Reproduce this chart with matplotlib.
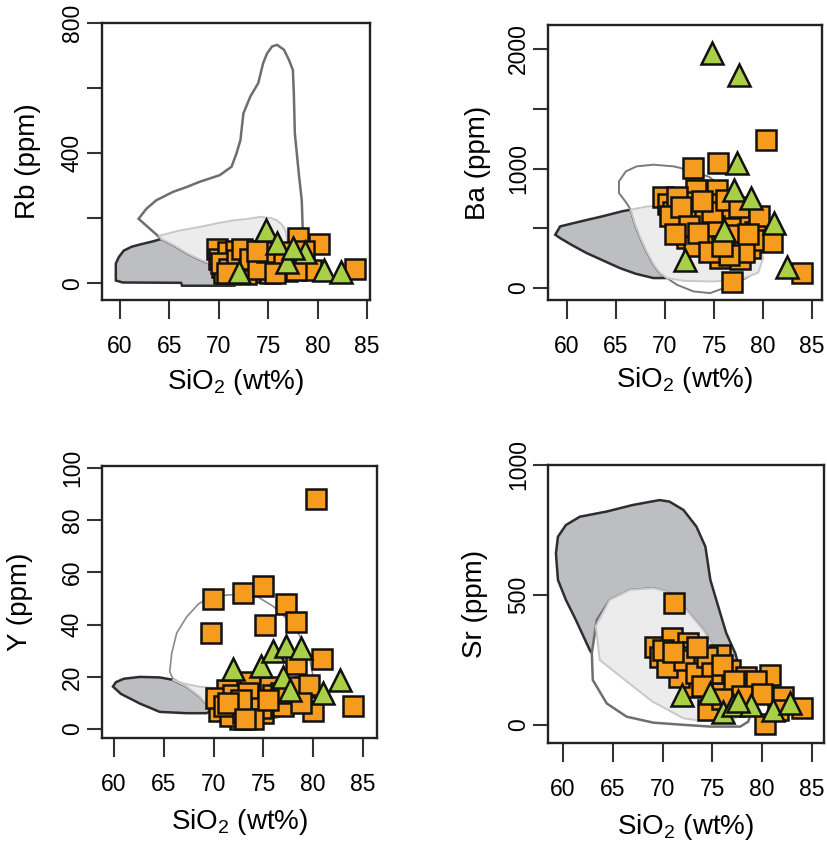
import matplotlib
matplotlib.use('Agg')
import matplotlib.pyplot as plt
from matplotlib.patches import Polygon

plt.rcParams['font.family'] = ['Liberation Sans', 'DejaVu Sans']
plt.rcParams['mathtext.fontset'] = 'custom'
plt.rcParams['mathtext.rm'] = 'Liberation Sans'

# ---- samples: SiO2 vs trace element (ppm) ----
rb_sq_x = [69.8, 70.0, 70.3, 70.9, 71.3, 71.8, 72.2, 72.6, 73.0, 73.4, 73.8, 74.2, 74.6, 75.0,
           75.5, 75.9, 76.4, 76.9, 77.5, 78.0, 79.3, 80.1, 83.8, 70.5, 71.6, 72.8, 73.6, 74.4,
           75.2, 76.2, 77.2, 78.6, 70.2, 71.0, 71.9, 72.4, 73.2, 74.0, 74.9, 76.6, 77.8,
           75.7, 73.9, 70.8]
rb_sq_y = [104, 75, 50, 95, 60, 100, 40, 85, 55, 98, 70, 35, 88, 60,
           45, 80, 55, 38, 65, 140, 40, 120, 45, 32, 30, 28, 100, 80,
           30, 95, 50, 100, 62, 42, 70, 105, 75, 45, 95, 70, 40,
           30, 100, 30]
rb_tr_x = [74.8, 75.9, 78.7, 76.9, 72.1, 80.6, 82.4, 77.5]
rb_tr_y = [163, 122, 96, 66, 35, 40, 35, 108]

ba_sq_x = [80.3, 72.9, 75.4, 69.8, 70.3, 70.8, 71.3, 71.8, 72.2, 73.2, 73.5, 73.9, 74.3, 74.6,
           75.3, 75.6, 76.0, 76.3, 75.6, 76.8, 77.1, 77.6, 77.8, 78.3, 78.7, 79.2, 80.9, 84.0,
           72.6, 71.2, 74.0, 73.0, 76.6, 79.0, 75.0, 77.3, 72.0, 70.5, 71.6, 72.4, 73.4,
           74.8, 76.2, 77.5, 78.0, 76.5, 74.5, 73.8, 71.0, 75.8, 79.6, 78.5]
ba_sq_y = [1238, 1001, 1043, 764, 700, 640, 560, 480, 420, 820, 650, 560, 480, 380,
           820, 700, 600, 400, 248, 53, 330, 240, 550, 583, 335, 470, 388, 123,
           720, 760, 620, 350, 500, 400, 520, 440, 600, 600, 680, 520, 460,
           640, 740, 680, 300, 280, 300, 730, 450, 350, 600, 450]
ba_tr_x = [74.8, 77.5, 77.3, 77.0, 78.8, 81.1, 76.0, 72.0, 82.4]
ba_tr_y = [1964, 1782, 1043, 820, 750, 541, 485, 234, 178]

y_sq_x = [80.3, 69.9, 73.0, 75.0, 77.3, 75.2, 78.3, 69.7, 80.9, 84.0, 80.0, 78.3,
          70.5, 71.3, 72.3, 73.7, 74.3, 75.7, 76.5, 78.3, 79.2, 72.7, 71.7, 75.0,
          70.2, 71.0, 72.0, 73.0, 73.5, 74.8, 76.0, 77.0, 77.8, 79.6, 74.0, 72.8,
          76.8, 78.8, 71.5, 73.2, 75.5]
y_sq_y = [88, 50, 52, 55, 48, 40, 41, 37, 27, 9, 7, 25,
          7, 15, 8, 18, 11, 16, 10, 13, 16, 4, 5, 6,
          12, 9, 13, 6, 14, 8, 13, 9, 16, 17, 4, 11,
          14, 10, 10, 4, 11]
y_tr_x = [72.0, 74.8, 76.0, 77.3, 78.8, 77.0, 77.7, 81.0, 82.7]
y_tr_y = [23, 24, 30, 32, 31, 20, 15, 14, 19]

sr_sq_x = [71.2, 69.2, 70.9, 72.6, 73.1, 71.7, 75.8, 74.9, 76.8, 78.4, 80.8, 84.0, 80.3,
           74.6, 79.3, 69.7, 71.3, 72.8, 73.9, 74.1, 75.4, 76.6, 77.8, 75.8, 72.8, 71.7,
           70.4, 79.4, 82.1, 81.6, 70.0, 72.2, 73.4, 74.5, 75.0, 76.0, 77.2, 76.0, 78.0,
           80.0, 74.0, 73.5, 71.0]
sr_sq_y = [468, 301, 333, 314, 282, 263, 269, 224, 212, 186, 192, 64, 3,
           58, 135, 263, 240, 212, 237, 173, 173, 147, 135, 122, 147, 186,
           224, 170, 109, 58, 290, 250, 200, 260, 200, 230, 170, 100, 110,
           120, 150, 300, 280]
sr_tr_x = [72.0, 74.8, 76.1, 77.1, 78.9, 81.1, 82.8, 77.6]
sr_tr_y = [115, 122, 51, 77, 77, 58, 83, 92]

# ---- reference fields (SiO2, ppm) ----
rb_dark = [(59.6, 8), (59.6, 60), (59.9, 80), (60.4, 100), (61.2, 112), (62.2, 120), (63.3, 128),
           (64.2, 136), (65.5, 116), (66.8, 92), (68.0, 74), (69.3, 58), (70.5, 45), (71.5, 30),
           (72.0, 12), (71.6, -8), (66.3, -8), (66.2, 1), (60.3, 2)]
rb_white = [(61.9, 198), (62.7, 229), (63.7, 255), (65.4, 281), (66.8, 296), (68.1, 312),
            (70.1, 332), (71.3, 358), (71.8, 399), (72.2, 440), (72.5, 522), (73.2, 574),
            (74.0, 615), (74.5, 677), (74.9, 707), (75.4, 728), (75.9, 733), (76.6, 718),
            (77.1, 687), (77.5, 656), (77.6, 584), (77.7, 461), (78.1, 337), (78.4, 255),
            (78.5, 162), (78.0, 120), (77.0, 80), (75.5, 60), (73.5, 50), (71.5, 42),
            (70.5, 45), (69.3, 58), (68.0, 74), (66.8, 92), (65.5, 116), (64.2, 136)]
rb_light = [(64.0, 146), (66.1, 162), (68.1, 173), (70.0, 185), (71.5, 193), (73.0, 198),
            (74.2, 204), (75.3, 200), (75.9, 193), (76.4, 180), (76.8, 160), (77.0, 120),
            (76.5, 70), (75.0, 50), (72.0, 45), (70.5, 45), (69.3, 58), (68.0, 74),
            (66.8, 92), (65.5, 116), (64.2, 136)]

ba_dark = [(58.8, 446), (59.3, 516), (61.4, 558), (63.6, 600), (65.6, 642), (66.5, 656),
           (67.0, 520), (67.6, 400), (68.2, 293), (68.9, 190), (69.5, 126), (70.2, 84),
           (68.8, 84), (67.0, 120), (65.4, 167), (63.7, 230), (62.0, 293), (60.5, 360),
           (59.3, 418)]
ba_white = [(65.3, 795), (65.3, 893), (66.0, 976), (67.1, 1018), (68.8, 1032), (70.9, 1018),
            (72.5, 985), (74.5, 930), (76.5, 800), (78.0, 600), (79.0, 350), (79.2, 150),
            (78.5, 95), (77.0, 30), (74.6, -42), (72.9, -28), (71.2, 28), (70.2, 84),
            (69.5, 126), (68.9, 190), (68.2, 293), (67.6, 400), (67.0, 520), (66.5, 656),
            (66.0, 720)]
ba_light = [(66.5, 656), (68.2, 683), (70.9, 697), (73.5, 690), (76.0, 650), (78.0, 560),
            (79.5, 400), (80.0, 250), (79.5, 130), (78.0, 80), (75.0, 55), (72.0, 60),
            (70.2, 84), (69.5, 126), (68.9, 190), (68.2, 293), (67.6, 400), (67.0, 520)]

y_dark = [(59.9, 16.3), (60.2, 18.0), (61.0, 19.3), (62.6, 20.0), (64.6, 19.8), (65.9, 18.9),
          (67.3, 16.3), (68.6, 12.5), (69.9, 7.4), (69.3, 6.1), (67.3, 6.1), (64.6, 6.6),
          (62.6, 9.8), (60.7, 13.5)]
y_white = [(69.9, 51), (72.0, 51.5), (74.3, 51), (76.0, 47), (78.0, 40), (79.5, 30),
           (80.0, 20), (79.2, 10), (78.0, 6.8), (76.3, 4.2), (74.6, 4.2), (72.0, 5),
           (69.9, 7.4), (68.6, 12.5), (67.3, 16.3), (65.9, 19.5), (65.6, 22), (65.8, 29),
           (66.3, 36.8), (67.3, 43), (68.5, 48)]
y_light = [(65.9, 19.0), (67.0, 17.5), (68.5, 16.3), (70.0, 15.8), (72.5, 15.5), (75.0, 15),
           (77.5, 13), (78.5, 10), (77.0, 6), (74.0, 4.8), (71.0, 5.5), (69.9, 7.4),
           (68.6, 12.5), (67.3, 16.3)]

sr_dark = [(59.3, 660), (59.5, 724), (60.3, 769), (61.7, 801), (64.4, 821), (67.0, 846),
           (69.7, 865), (70.7, 859), (72.1, 827), (73.4, 763), (74.3, 686), (74.8, 558),
           (75.8, 429), (76.4, 353), (77.3, 276), (78.0, 180), (70.0, 150), (63.4, 250),
           (62.7, 288), (61.3, 404), (60.3, 481), (59.5, 558)]
sr_white = [(62.9, 276), (63.4, 404), (64.7, 481), (66.7, 519), (69.1, 526), (70.4, 513),
            (72.4, 442), (74.1, 365), (75.1, 301), (77.0, 230), (78.5, 150), (79.0, 60),
            (78.6, 13), (77.8, -6), (74.8, -6), (72.4, 0), (69.1, 9), (66.4, 32), (64.4, 83),
            (63.0, 173)]
sr_light = [(63.3, 380), (64.7, 481), (66.7, 519), (69.1, 526), (70.4, 513), (72.4, 442),
            (74.1, 365), (75.1, 301), (77.0, 230), (78.5, 150), (78.8, 60), (77.0, 20),
            (74.0, 15), (72.1, 26), (69.0, 90), (66.0, 180), (63.7, 250)]

ORANGE = '#f59c1e'
GREEN = '#a9cf46'
DARK_FILL = '#bdbec2'
DARK_EDGE = '#2e2e2e'
LIGHT_FILL = '#ececec'
LIGHT_EDGE = '#c8c8c8'

fig = plt.figure(figsize=(8.27, 8.44), dpi=100)

panels = [
    # rect, xlim, ylim, yticks, ytick labels, ylabel, ylabel x, xlabel y, outline colour/width
    ([0.1233, 0.6445, 0.3241, 0.3282], (58.2, 85.3), (-52, 800), [0, 200, 400, 600, 800],
     ['0', '', '400', '', '800'], 'Rb (ppm)', -0.276, -0.296, ('#6e6e6e', 1.8),
     rb_dark, rb_white, rb_light, rb_sq_x, rb_sq_y, rb_tr_x, rb_tr_y),
    ([0.6626, 0.6445, 0.3313, 0.3258], (58.06, 86.0), (-100, 2200), [0, 500, 1000, 1500, 2000],
     ['0', '', '1000', '', '2000'], 'Ba (ppm)', -0.255, -0.291, ('#7a7a7a', 1.4),
     ba_dark, ba_white, ba_light, ba_sq_x, ba_sq_y, ba_tr_x, ba_tr_y),
    ([0.1233, 0.1256, 0.3325, 0.3223], (58.8, 86.4), (-3.4, 100.8), [0, 20, 40, 60, 80, 100],
     ['0', '20', '40', '60', '80', '100'], 'Y (ppm)', -0.298, -0.309, ('#8a8a8a', 1.2),
     y_dark, y_white, y_light, y_sq_x, y_sq_y, y_tr_x, y_tr_y),
    ([0.6626, 0.1197, 0.3337, 0.3294], (58.5, 86.2), (-69, 1000), [0, 500, 1000],
     ['0', '500', '1000'], 'Sr (ppm)', -0.264, -0.302, ('#6e6e6e', 1.8),
     sr_dark, sr_white, sr_light, sr_sq_x, sr_sq_y, sr_tr_x, sr_tr_y),
]

for (rect, xl, yl, yt, ytl, ylab, ylx, xly, (wcol, wlw),
     dark, white, light, sqx, sqy, trx, try_) in panels:
    ax = fig.add_axes(rect)
    ax.set_xlim(xl)
    ax.set_ylim(yl)

    ax.add_patch(Polygon(dark, closed=True, fc=DARK_FILL, ec=DARK_EDGE, lw=1.8, zorder=1))
    ax.add_patch(Polygon(white, closed=True, fc='white', ec=wcol, lw=wlw, zorder=2))
    ax.add_patch(Polygon(light, closed=True, fc=LIGHT_FILL, ec=LIGHT_EDGE, lw=1.4, zorder=3))

    ax.plot(sqx, sqy, 's', ms=14.5, mfc=ORANGE, mec='#111111', mew=1.8, ls='none', zorder=4)
    ax.plot(trx, try_, '^', ms=16.5, mfc=GREEN, mec='#111111', mew=1.8, ls='none', zorder=5)

    ax.set_xticks([60, 65, 70, 75, 80, 85])
    ax.set_yticks(yt)
    ax.set_yticklabels(ytl, rotation=90, va='center')
    ax.tick_params(axis='x', length=14, width=1.5, pad=11, labelsize=16.5, color='#333333')
    ax.tick_params(axis='y', length=11, width=1.5, pad=2, labelsize=16.5, color='#333333')
    for sp in ax.spines.values():
        sp.set_linewidth(1.7)
        sp.set_color('#222222')

    ax.set_xlabel('SiO$_2$ (wt%)', fontsize=20)
    ax.set_ylabel(ylab, fontsize=20)
    ax.xaxis.set_label_coords(0.5, xly)
    ax.xaxis.label.set_va('center')
    ax.yaxis.set_label_coords(ylx, 0.5)
    ax.yaxis.label.set_va('center')

fig.savefig('out.png', dpi=100)
